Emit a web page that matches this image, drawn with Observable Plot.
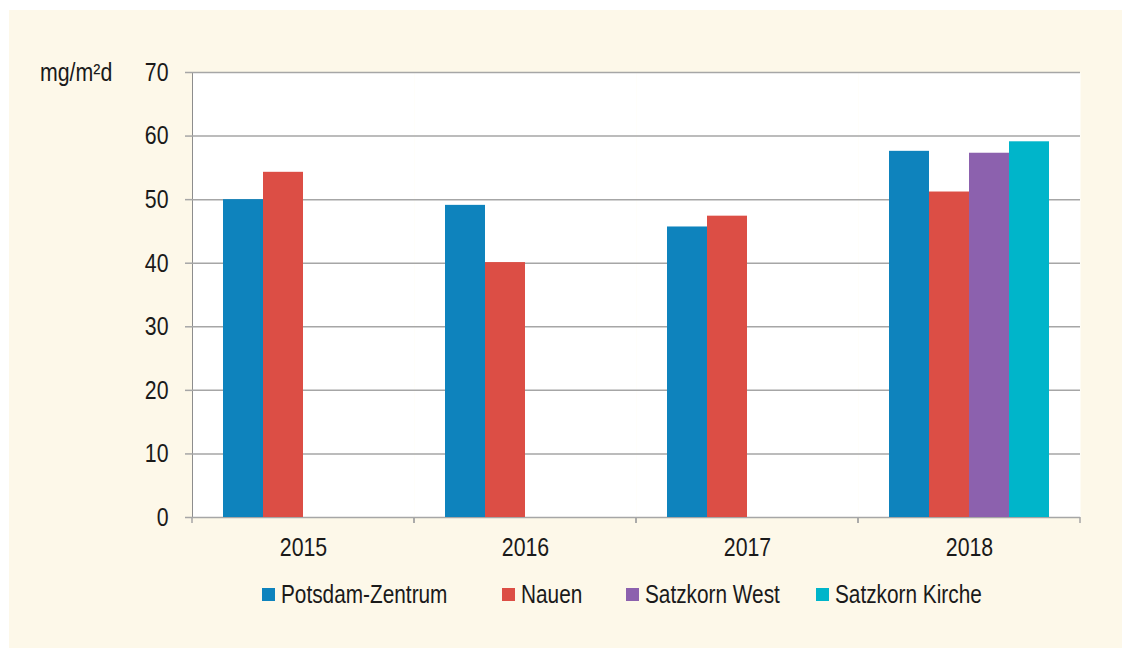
<!DOCTYPE html>
<html><head><meta charset="utf-8">
<script src="https://cdn.jsdelivr.net/npm/d3@7"></script>
<script src="https://cdn.jsdelivr.net/npm/@observablehq/plot@0.6"></script>
<style>
html,body{margin:0;padding:0;background:#fff;}
#panel{position:absolute;left:9px;top:10px;width:1113px;height:638px;background:#fdf8e9;font-family:"Liberation Sans",Arial,sans-serif;color:#1a1a1a;}
#chart{position:absolute;left:0;top:0;}
#unit{position:absolute;left:31px;top:49px;font-size:26px;line-height:26px;transform:scaleX(0.82);transform-origin:left center;}
#legend{position:absolute;left:0;top:571px;width:1113px;height:26px;font-size:26px;line-height:26px;white-space:nowrap;}
.item{position:absolute;top:0;display:flex;align-items:center;height:26px;}
.sw{width:13px;height:13px;margin-right:6px;}
.lt{display:inline-block;transform:scaleX(0.8);transform-origin:left center;}
#chart svg g[aria-label*="axis"] line, #chart svg g[aria-label*="axis"] path{stroke:#a6a6a6;stroke-width:1.5px;}
</style></head><body>
<div id="panel"><div id="chart"></div><div id="unit">mg/m²d</div><div id="legend"></div></div>
<script>
const years = ["2015", "2016", "2017", "2018"];
const series = ["Potsdam-Zentrum", "Nauen", "Satzkorn West", "Satzkorn Kirche"];
const potsdamZentrum = [50.0, 49.1, 45.7, 57.6];
const nauen = [54.3, 40.1, 47.4, 51.2];
const satzkornWest = [null, null, null, 57.3];
const satzkornKirche = [null, null, null, 59.1];
const colors = ["#0e83bd", "#dc4e45", "#8c61ae", "#00b5ca"];
const yTicks = [0, 10, 20, 30, 40, 50, 60, 70];
const legendLefts = [253, 493, 617, 807];

const seriesValues = [potsdamZentrum, nauen, satzkornWest, satzkornKirche];
const rows = years.flatMap((yr, i) => seriesValues.map((vals, j) => ({year: yr, series: series[j], value: vals[i]})))
  .filter(d => d.value != null);

function boundaryTicks(index, scales, values, dimensions) {
  const {marginLeft, marginRight, width} = dimensions;
  const y0 = scales.y(0);
  const g = d3.create("svg:g").attr("stroke", "#a6a6a6").attr("stroke-width", 1.5);
  for (const x of [marginLeft, width - marginRight]) {
    g.append("line").attr("x1", x).attr("x2", x).attr("y1", y0).attr("y2", y0 + 6);
  }
  return g.node();
}

const chart = Plot.plot({
  width: 1113,
  height: 560,
  marginLeft: 181,
  marginRight: 41,
  marginTop: 62,
  marginBottom: 53,
  style: {background: "transparent", fontFamily: '"Liberation Sans",Arial,sans-serif', fontSize: "26px", color: "#1a1a1a", overflow: "visible"},
  facet: {data: rows, x: "year"},
  fx: {domain: years, padding: 0, axis: "bottom", tickSize: 0, tickPadding: 20, label: null},
  x: {domain: series, paddingInner: 0, paddingOuter: 0.74, axis: null},
  y: {domain: [0, 70], ticks: yTicks, tickSize: 7, tickPadding: 17, label: null, line: true},
  color: {domain: series, range: colors},
  marks: [
    Plot.frame({fill: "white", stroke: null}),
    Plot.ruleY(yTicks, {stroke: "#a6a6a6", strokeWidth: 1.5}),
    Plot.barY(rows, {x: "series", y: "value", fill: "series"}),
    boundaryTicks
  ]
});
// narrow the text horizontally around its anchor point (Arial Narrow look)
chart.querySelectorAll("text").forEach(t => {
  const ax = parseFloat(t.getAttribute("x")) || 0;
  const tr = t.getAttribute("transform") || "";
  t.setAttribute("transform", `${tr} translate(${ax},0) scale(0.82,1) translate(${-ax},0)`.trim());
});
document.getElementById("chart").appendChild(chart);

const legend = d3.select("#legend");
series.forEach((s, i) => {
  const it = legend.append("div").attr("class", "item").style("left", `${legendLefts[i]}px`);
  it.append("div").attr("class", "sw").style("background", colors[i]);
  it.append("span").attr("class", "lt").text(s);
});
</script>
</body></html>
